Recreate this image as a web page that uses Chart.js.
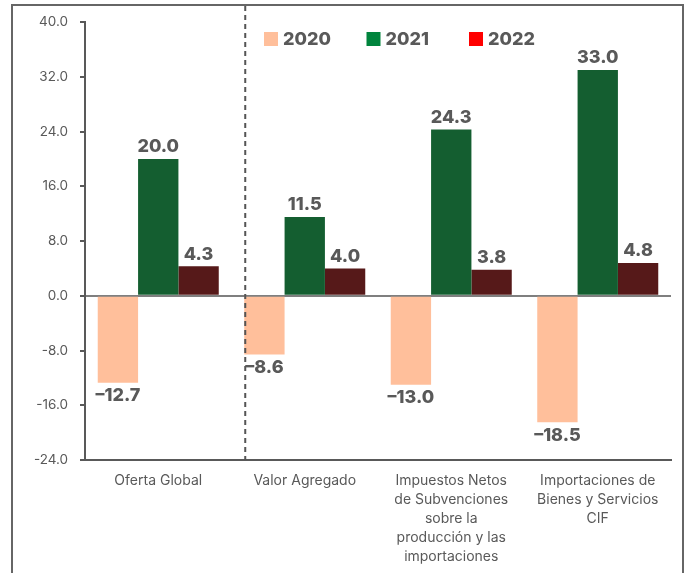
<!DOCTYPE html>
<html>
<head>
<meta charset="utf-8">
<script src="https://cdn.jsdelivr.net/npm/chart.js@4.4.1/dist/chart.umd.min.js"></script>
<style>
  html, body { margin: 0; padding: 0; background: #fff; }
  #wrap { width: 688px; height: 573px; }
</style>
</head>
<body>
<div id="wrap"><canvas id="chart"></canvas></div>
<script>
// categories and values (variación %)
const categories = [
    "Oferta Global",
    "Valor Agregado",
    ["Impuestos Netos", "de Subvenciones", "sobre la", "producción y las", "importaciones"],
    ["Importaciones de", "Bienes y Servicios", "CIF"],
];
const years = ["2020", "2021", "2022"];
const values2020 = [-12.7, -8.6, -13.0, -18.5];
const values2021 = [20.0, 11.5, 24.3, 33.0];
const values2022 = [4.3, 4.0, 3.8, 4.8];
const yTicks = [-24, -16, -8, 0, 8, 16, 24, 32, 40];

const barColors = ["#FFBF9B", "#145E30", "#561919"];
const legendColors = ["#FFBF9B", "#00843D", "#FF0000"];
const gray = "#595959";
const font = "Inter, 'Open Sans', sans-serif";

// frame around the figure + dashed separator after the first group
const framePlugin = {
    id: "frame",
    beforeDraw(chart) {
        const ctx = chart.ctx;
        ctx.save();
        ctx.strokeStyle = "#666";
        ctx.lineWidth = 2;
        ctx.strokeRect(12, 5, 671, 600);
        ctx.restore();
    },
    afterDatasetsDraw(chart) {
        const ctx = chart.ctx;
        const bar = chart.getDatasetMeta(0).data[1];
        const x = bar.x - bar.width / 2 + 1;
        ctx.save();
        ctx.strokeStyle = "#555";
        ctx.lineWidth = 2;
        ctx.setLineDash([5, 4]);
        ctx.beginPath();
        ctx.moveTo(x, 6);
        ctx.lineTo(x, chart.chartArea.bottom);
        ctx.stroke();
        ctx.restore();
    },
};

const labelPlugin = {
    id: "barLabels",
    afterDatasetsDraw(chart) {
        const ctx = chart.ctx;
        ctx.save();
        ctx.font = "800 18px " + font;
        ctx.fillStyle = gray;
        ctx.textAlign = "center";
        ctx.textBaseline = "middle";
        chart.data.datasets.forEach((ds, i) => {
            chart.getDatasetMeta(i).data.forEach((el, j) => {
                const v = ds.data[j];
                const txt = (v < 0 ? "\u2013" : "") + Math.abs(v).toFixed(1);
                ctx.fillText(txt, el.x, v < 0 ? el.y + 13 : el.y - 12);
            });
        });
        ctx.restore();
    },
};

const legendPlugin = {
    id: "topLegend",
    afterDraw(chart) {
        const ctx = chart.ctx;
        ctx.save();
        ctx.font = "800 18px " + font;
        ctx.textBaseline = "middle";
        chart.data.datasets.forEach((ds, i) => {
            const x = 264 + i * 102.5;
            ctx.fillStyle = legendColors[i];
            ctx.fillRect(x, 32, 14, 14);
            ctx.fillStyle = gray;
            ctx.fillText(ds.label, x + 19, 40);
        });
        ctx.restore();
    },
};

new Chart(document.getElementById("chart"), {
    type: "bar",
    data: {
        labels: categories,
        datasets: [
            { label: years[0], data: values2020, backgroundColor: barColors[0] },
            { label: years[1], data: values2021, backgroundColor: barColors[1] },
            { label: years[2], data: values2022, backgroundColor: barColors[2] },
        ],
    },
    options: {
        responsive: true,
        maintainAspectRatio: false,
        animation: false,
        events: [],
        layout: { padding: { left: 12, right: 17, top: 22, bottom: 0 } },
        datasets: { bar: { categoryPercentage: 0.826, barPercentage: 1.0 } },
        plugins: {
            legend: { display: false },
            tooltip: { enabled: false },
        },
        scales: {
            x: {
                grid: { display: false, drawTicks: false },
                border: { color: gray, width: 2 },
                ticks: {
                    color: gray,
                    padding: 11,
                    maxRotation: 0,
                    autoSkip: false,
                    font: { family: font, size: 14, lineHeight: 1.36 },
                },
                afterFit(scale) { scale.height = 113; },
            },
            y: {
                min: -24,
                max: 40,
                afterBuildTicks(scale) { scale.ticks = yTicks.map(v => ({ value: v })); },
                grid: {
                    color: c => (c.tick && c.tick.value === 0 ? "#7f7f7f" : "transparent"),
                    lineWidth: 2,
                    tickLength: 5,
                    tickColor: gray,
                    tickWidth: 2,
                },
                border: { color: gray, width: 2 },
                ticks: {
                    color: gray,
                    padding: 12,
                    font: { family: font, size: 13.5 },
                    callback: v => v.toFixed(1),
                },
                afterFit(scale) { scale.width = 73; },
            },
        },
    },
    plugins: [framePlugin, labelPlugin, legendPlugin],
});
</script>
</body>
</html>
